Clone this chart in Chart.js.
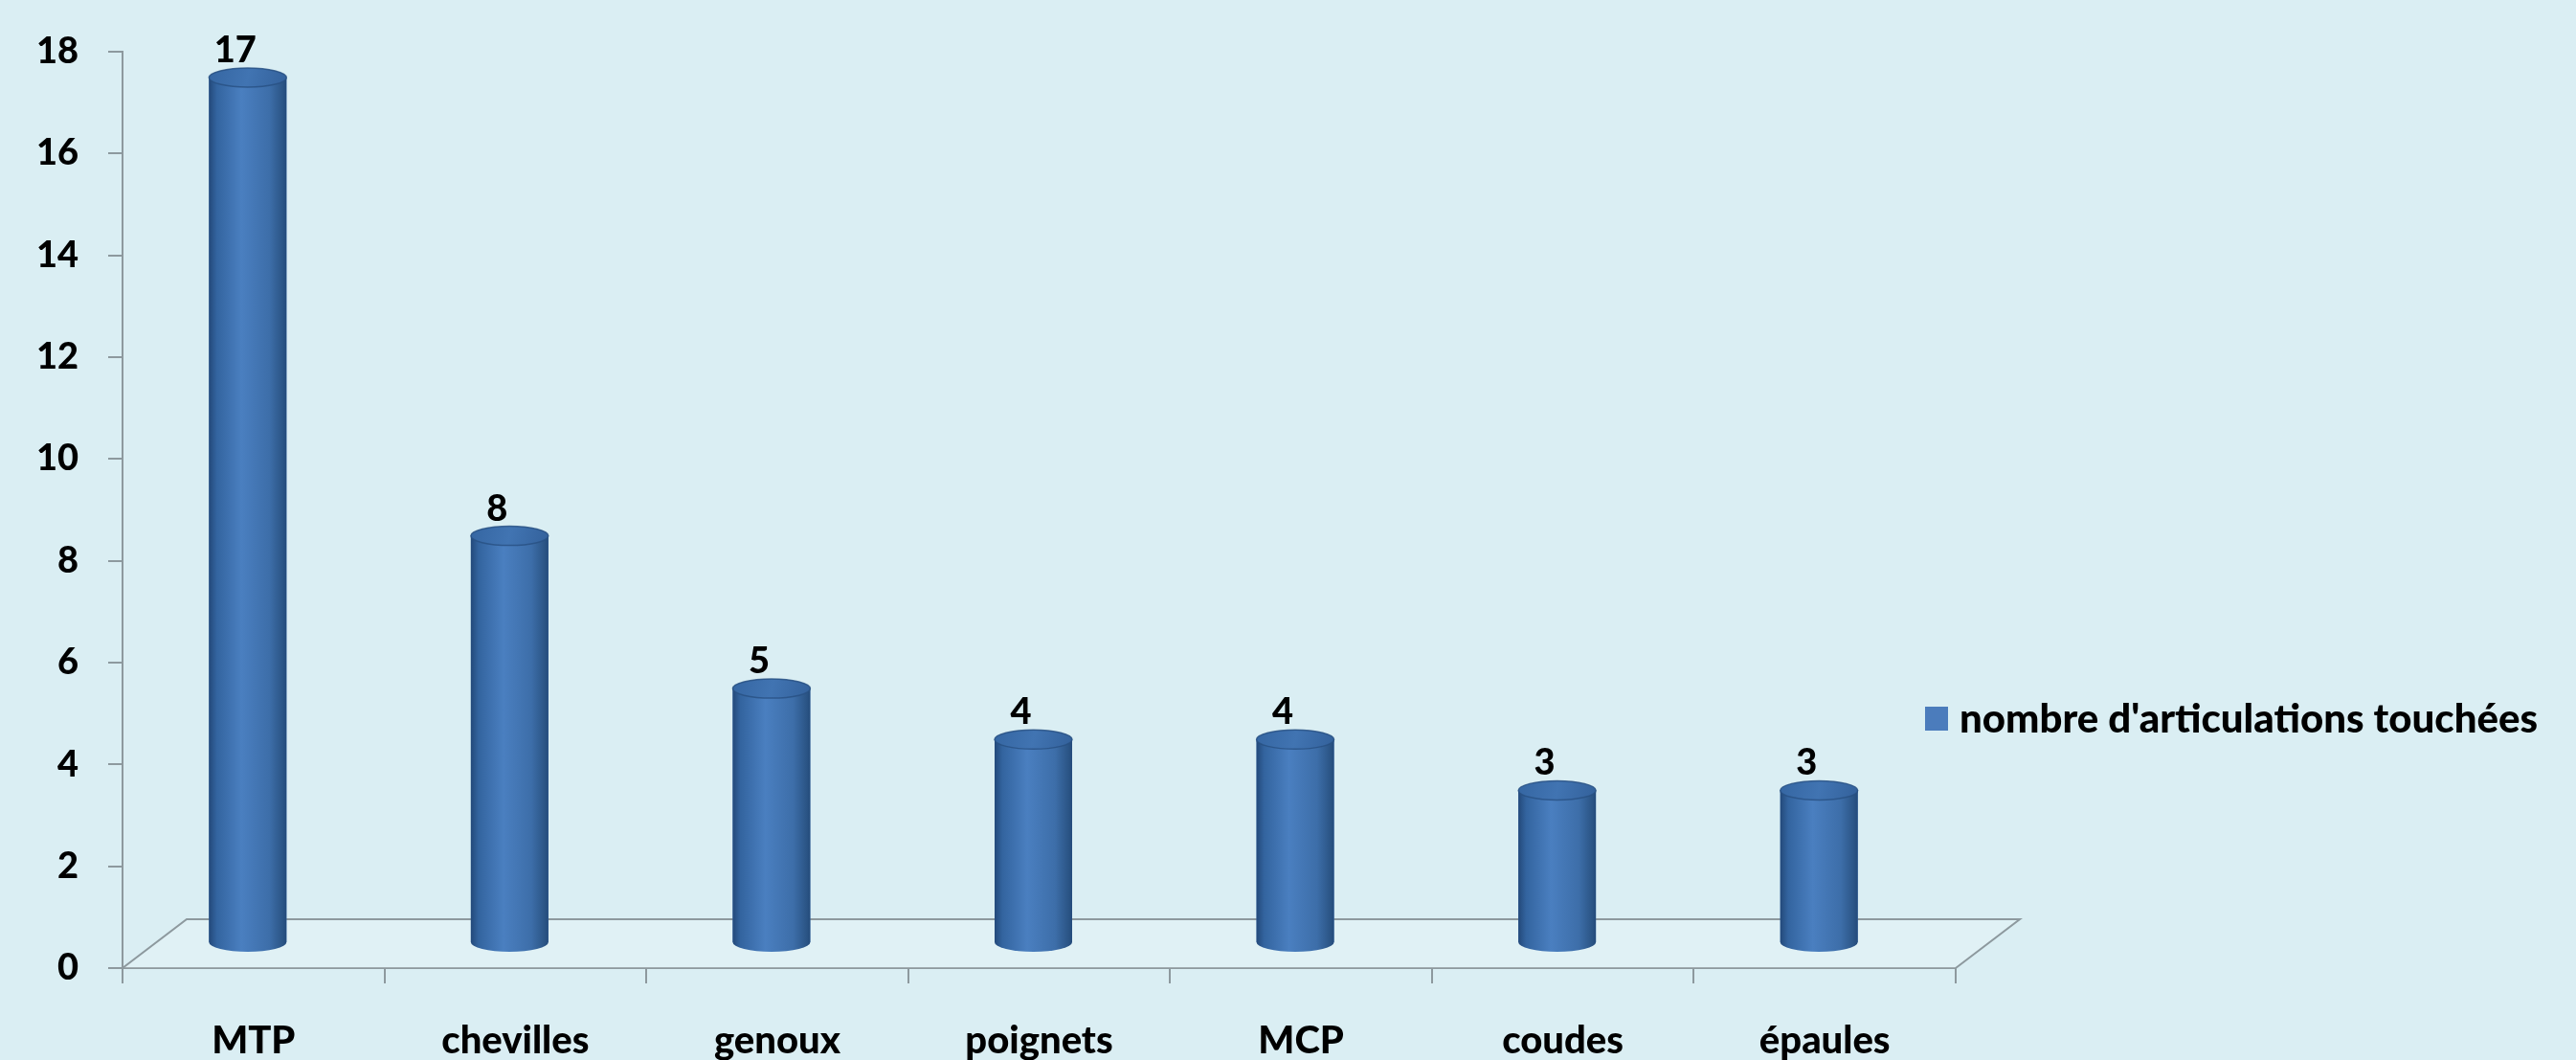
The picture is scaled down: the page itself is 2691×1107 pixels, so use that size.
<!DOCTYPE html>
<html lang="fr">
<head>
<meta charset="utf-8">
<title>Articulations touchées</title>
<script src="https://cdn.jsdelivr.net/npm/chart.js@4.4.1/dist/chart.umd.min.js"></script>
<style>
  html, body { margin: 0; padding: 0; background: #daeef3; overflow: hidden; }
  canvas { display: block; }
</style>
</head>
<body>
<canvas id="chart" width="2691" height="1107"></canvas>
<script>
// ---- data ----
const categories = ['MTP', 'chevilles', 'genoux', 'poignets', 'MCP', 'coudes', 'épaules'];
const seriesLabel = "nombre d'articulations touchées";
const seriesValues = [17, 8, 5, 4, 4, 3, 3];
const yTickValues = [0, 2, 4, 6, 8, 10, 12, 14, 16, 18];

// ---- styling ----
const FONT = 'Lato, "Open Sans", "DejaVu Sans", sans-serif';
const WEIGHT = '900';
const AXIS_GREY = '#8d999e';
const BAR_BLUE = '#4a7dbd';
// depth vector of the 3-D floor, and where the cylinders stand on it
const FLOOR_DX = 67, FLOOR_DY = -51;
const BAR_DX = -6, BAR_DY = -26;
const CAP_RY = 10;

function drawCylinder(ctx, cx, top, bottom, w) {
  const rx = w / 2, l = cx - rx, r = cx + rx;
  const body = ctx.createLinearGradient(l, 0, r, 0);
  body.addColorStop(0, '#23497a');
  body.addColorStop(0.1, '#33649f');
  body.addColorStop(0.42, '#4a7fc0');
  body.addColorStop(0.78, '#3d6ea9');
  body.addColorStop(0.95, '#2b5586');
  body.addColorStop(1, '#244b7b');
  ctx.fillStyle = body;
  ctx.beginPath();
  ctx.moveTo(l, top);
  ctx.lineTo(l, bottom);
  ctx.ellipse(cx, bottom, rx, CAP_RY, 0, Math.PI, 0, true);
  ctx.lineTo(r, top);
  ctx.ellipse(cx, top, rx, CAP_RY, 0, 0, Math.PI, true);
  ctx.closePath();
  ctx.fill();

  const cap = ctx.createLinearGradient(l, top - CAP_RY, r, top + CAP_RY);
  cap.addColorStop(0, '#3566a2');
  cap.addColorStop(0.5, '#4174b2');
  cap.addColorStop(1, '#33619b');
  ctx.fillStyle = cap;
  ctx.beginPath();
  ctx.ellipse(cx, top, rx, CAP_RY, 0, 0, Math.PI * 2);
  ctx.fill();
  ctx.strokeStyle = 'rgba(40, 80, 130, 0.8)';
  ctx.lineWidth = 1.5;
  ctx.stroke();
}

const background = {
  id: 'background',
  beforeDraw(chart) {
    const { ctx, width, height } = chart;
    ctx.save();
    ctx.fillStyle = '#daeef3';
    ctx.fillRect(0, 0, width, height);
    ctx.restore();
  }
};

const cylinders3d = {
  id: 'cylinders3d',
  beforeDatasetsDraw(chart) {
    const { ctx, chartArea: a } = chart;
    // floor of the 3-D plot
    ctx.save();
    ctx.fillStyle = 'rgba(255, 255, 255, 0.18)';
    ctx.beginPath();
    ctx.moveTo(a.left, a.bottom);
    ctx.lineTo(a.left + FLOOR_DX, a.bottom + FLOOR_DY);
    ctx.lineTo(a.right + FLOOR_DX, a.bottom + FLOOR_DY);
    ctx.lineTo(a.right, a.bottom);
    ctx.closePath();
    ctx.fill();
    ctx.strokeStyle = AXIS_GREY;
    ctx.lineWidth = 2;
    ctx.beginPath();
    ctx.moveTo(a.left, a.bottom);
    ctx.lineTo(a.left + FLOOR_DX, a.bottom + FLOOR_DY);
    ctx.lineTo(a.right + FLOOR_DX, a.bottom + FLOOR_DY);
    ctx.lineTo(a.right, a.bottom);
    ctx.stroke();
    ctx.restore();
    // bars stand half-way into the floor depth
    ctx.save();
    ctx.translate(BAR_DX, BAR_DY);
  },
  afterDatasetsDraw(chart) {
    const ctx = chart.ctx;
    const meta = chart.getDatasetMeta(0);
    meta.data.forEach((bar, i) => {
      const { x, y, base, width } = bar.getProps(['x', 'y', 'base', 'width'], true);
      drawCylinder(ctx, x, y, base, width);
      ctx.fillStyle = '#000';
      ctx.font = `${WEIGHT} 38px ${FONT}`;
      ctx.textAlign = 'center';
      ctx.textBaseline = 'alphabetic';
      ctx.fillText(String(chart.data.datasets[0].data[i]), x - 13, y - CAP_RY - 6);
    });
    ctx.restore();
  }
};

const sideLegend = {
  id: 'sideLegend',
  afterDraw(chart, args, opts) {
    const ctx = chart.ctx;
    const ds = chart.data.datasets[0];
    ctx.save();
    ctx.fillStyle = '#4b7cbc';
    ctx.fillRect(opts.x, opts.y - 12, 24, 25);
    ctx.fillStyle = '#000';
    ctx.font = `${WEIGHT} 42px ${FONT}`;
    ctx.textAlign = 'left';
    ctx.textBaseline = 'middle';
    ctx.fillText(ds.label, opts.x + 36, opts.y + 1);
    ctx.restore();
  }
};

new Chart(document.getElementById('chart'), {
  type: 'bar',
  data: {
    labels: categories,
    datasets: [{
      label: seriesLabel,
      data: seriesValues,
      backgroundColor: BAR_BLUE,
      borderWidth: 0,
      categoryPercentage: 1,
      barPercentage: 0.296
    }]
  },
  options: {
    responsive: false,
    animation: false,
    layout: { padding: { top: 51, right: 648, bottom: 0, left: 0 } },
    plugins: {
      legend: { display: false },
      tooltip: { enabled: false },
      sideLegend: { x: 2011, y: 750 }
    },
    scales: {
      x: {
        grid: { offset: true, drawOnChartArea: false, tickLength: 16, color: AXIS_GREY, lineWidth: 2 },
        border: { display: true, color: AXIS_GREY, width: 2 },
        ticks: {
          color: '#000',
          font: { family: FONT, size: 40, weight: WEIGHT },
          padding: 36,
          maxRotation: 0,
          autoSkip: false
        },
        afterFit(scale) { scale.height = 96; }
      },
      y: {
        min: 0,
        max: 18,
        afterBuildTicks(scale) { scale.ticks = yTickValues.map(v => ({ value: v })); },
        grid: { drawOnChartArea: false, tickLength: 15, color: AXIS_GREY, lineWidth: 2 },
        border: { display: true, color: AXIS_GREY, width: 2 },
        ticks: {
          color: '#000',
          font: { family: FONT, size: 38, weight: WEIGHT },
          padding: 31
        },
        afterFit(scale) { scale.width = 128; }
      }
    }
  },
  plugins: [background, cylinders3d, sideLegend]
});
</script>
</body>
</html>
